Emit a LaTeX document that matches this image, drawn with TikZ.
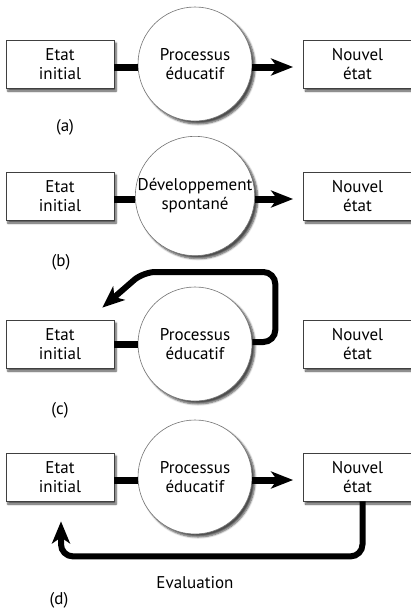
\documentclass[tikz,border=0pt]{standalone}
\usepackage{fontspec}
\setmainfont{PT Sans}
\usetikzlibrary{positioning, calc, arrows.meta, shadows.blur}

\begin{document}
\begin{tikzpicture}[
    x=1pt, y=-1pt,
    % Styling
    base font/.style={font=\fontsize{17}{19}\selectfont},
    % Style for the two states
    state box/.style={
        base font,
        draw=black!75,
        fill=white,
        line width=0.8pt,
        minimum width=108pt,
        minimum height=48pt,
        inner sep=0pt,
        align=center,
        blur shadow={shadow xshift=2pt, shadow yshift=-3pt,
                     shadow blur steps=6, shadow opacity=70}
    },
    % Style for the process in the middle
    process/.style={
        base font,
        circle,
        draw=black!55,
        fill=white,
        line width=0.6pt,
        minimum size=114pt,
        inner sep=0pt,
        align=center,
        blur shadow={shadow xshift=3pt, shadow yshift=-3pt,
                     shadow blur steps=6, shadow opacity=70}
    },
    bar/.style={line width=7pt, color=black},
    arrow style/.style={
        bar,
        -{Stealth[length=22pt, width=17pt, inset=6pt]},
        shorten >=10pt
    },
    loop style/.style={
        line width=6pt,
        rounded corners=12pt,
        -{Stealth[length=22pt, width=18pt, inset=6pt]}
    }
]

\useasboundingbox (0,0) rectangle (411,611);

% --- The four rows ---
% Format: Row / y of the centre / text in the circle
\foreach \row/\yc/\ptext in {1/64/{Processus\\éducatif},
                             2/196/{Développement\\spontané},
                             3/344/{Processus\\éducatif},
                             4/477/{Processus\\éducatif}} {
    \node[state box] (ini\row) at (60, \yc) {Etat\\initial};
    \node[process] (proc\row) at (195, \yc) {\ptext};
    \node[state box] (new\row) at (357.5, \yc) {Nouvel\\état};
}

% --- Connectors ---
% (a) and (b): straight through
\foreach \row in {1, 2} {
    \draw[bar] ([yshift=-3pt]ini\row.east) -- ([yshift=-3pt]proc\row.west);
    \draw[arrow style] ([yshift=-3pt]proc\row.east) -- ([yshift=-3pt]new\row.west);
}

% (c): back to the start
\coordinate (tip3) at ($(ini3.north east)+(-12,-12)$);
\draw[bar] (ini3.east) -- (proc3.west);
\draw[loop style] ([yshift=2pt]proc3.east) -- ++(23,0) -- ++(0,-70) -- ++(-132,0) -- (tip3);

% (d): evaluation of the new state
\coordinate (tip4) at ($(ini4.south)+(1,20)$);
\draw[bar] ([yshift=-3pt]ini4.east) -- ([yshift=-3pt]proc4.west);
\draw[arrow style] ([yshift=-3pt]proc4.east) -- ([yshift=-3pt]new4.west);
\draw[loop style] ([xshift=5pt]new4.south) -- ++(0,55) -| (tip4);

% --- Annotations ---
\node[base font] (lbl-a) at (65, 127) {(a)};
\node[base font] (lbl-b) at (61, 262) {(b)};
\node[base font] (lbl-c) at (60, 410) {(c)};
\node[base font] (eval) at (195, 583) {Evaluation};
\node[base font] (lbl-d) at (59, 600) {(d)};

\end{tikzpicture}
\end{document}
